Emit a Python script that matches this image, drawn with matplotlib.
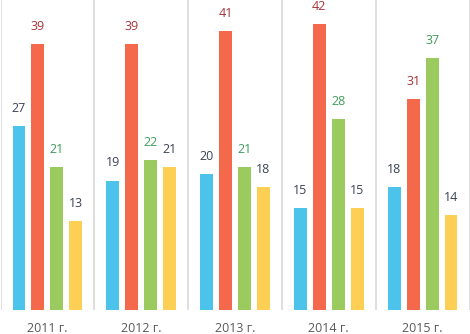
import matplotlib
matplotlib.use("Agg")
import matplotlib.pyplot as plt
import numpy as np

categories = ["2011 г.", "2012 г.", "2013 г.", "2014 г.", "2015 г."]
series_blue = [27, 19, 20, 15, 18]
series_red = [39, 39, 41, 42, 31]
series_green = [21, 22, 21, 28, 37]
series_yellow = [13, 21, 18, 15, 14]

bar_colors = ["#4BC3EA", "#F4694B", "#9BCB5E", "#FDD055"]
label_colors = ["#3B4454", "#A8323A", "#3F9B5B", "#3B4454"]

plt.rcParams['font.family'] = ['Open Sans', 'DejaVu Sans']

fig = plt.figure(figsize=(4.70, 3.34), dpi=100)
ax = fig.add_axes([0.5 / 470, 24 / 334, 469 / 470, 310 / 334])

series = [series_blue, series_red, series_green, series_yellow]
n = len(categories)
x = np.arange(n) + 0.5
offsets = [-0.303, -0.101, 0.101, 0.303]
width = 0.138

for vals, off, bc, lc in zip(series, offsets, bar_colors, label_colors):
    bars = ax.bar(x + off, vals, width=width, color=bc, zorder=2)
    for b, v in zip(bars, vals):
        ax.annotate(str(v), (b.get_x() + b.get_width() / 2, b.get_height()),
                    xytext=(0, 8), textcoords="offset points",
                    ha="center", va="bottom", fontsize=9, color=lc)

for i in range(n + 1):
    ax.axvline(i, color="#D9D9D9", linewidth=1.2, zorder=1)

ax.set_xlim(0, n)
ax.set_ylim(0, 45.5)
ax.set_xticks(x)
ax.set_xticklabels(categories, fontsize=9, color="#595959")
ax.tick_params(axis="x", length=0, pad=9)
ax.set_yticks([])
for s in ax.spines.values():
    s.set_visible(False)

fig.savefig("out.png", dpi=100)
